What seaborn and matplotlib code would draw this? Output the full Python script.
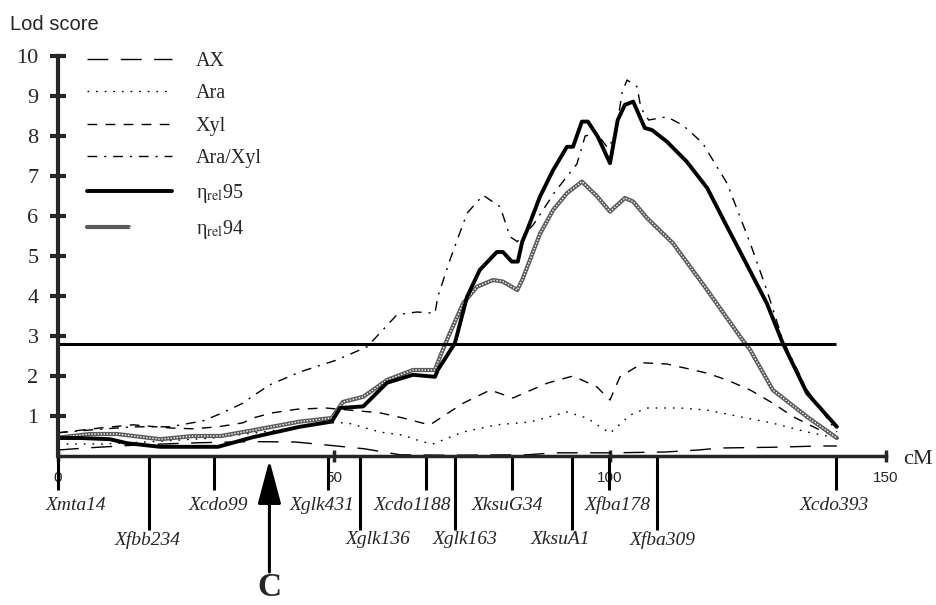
import seaborn as sns
import matplotlib.pyplot as plt
from matplotlib.legend_handler import HandlerTuple

# LOD profiles along the chromosome (position in cM, LOD score)
ax_cm = [0, 5, 15, 25, 35, 43, 49, 55.5, 62, 70, 85, 90, 101, 110, 116, 120, 130, 138, 141.1]
ax_lod = [0.15, 0.2, 0.28, 0.33, 0.36, 0.35, 0.27, 0.18, 0.03, 0.02, 0.03, 0.08, 0.08, 0.1, 0.15, 0.2, 0.22, 0.25, 0.25]

ara_cm = [0, 8, 16, 28, 40, 48.7, 52.4, 58.3, 62.5, 65.9, 67.9, 73.4, 79.5, 85.5, 92.2, 95.8,
          100.0, 103.6, 106.7, 112.7, 117.6, 123.6, 129.5, 135.7, 141.1]
ara_lod = [0.3, 0.3, 0.35, 0.45, 0.65, 0.83, 0.83, 0.6, 0.52, 0.36, 0.3, 0.6, 0.78, 0.85, 1.1, 0.95,
           0.57, 1.02, 1.2, 1.2, 1.15, 0.98, 0.82, 0.6, 0.45]

xyl_cm = [0, 7.6, 13.6, 20.3, 24.5, 29.0, 33.5, 35.3, 38.9, 43.3, 48.5, 58.3, 62.5, 66.1, 67.4, 73.4,
          78.3, 82.4, 88.6, 93.3, 97.6, 100.0, 101.8, 106.0, 110.3, 114.5, 117.6, 121.2, 125.4,
          129.5, 133.2, 138.0, 141.1]
xyl_lod = [0.58, 0.7, 0.78, 0.7, 0.68, 0.73, 0.83, 0.95, 1.08, 1.17, 1.2, 1.08, 0.95, 0.82, 0.78, 1.32,
           1.65, 1.45, 1.82, 2.0, 1.73, 1.4, 1.98, 2.33, 2.3, 2.17, 2.07, 1.9, 1.65,
           1.32, 0.98, 0.65, 0.48]

araxyl_cm = [0, 5.8, 13.6, 20.3, 26.3, 29.3, 33.5, 35.3, 38.4, 43.8, 50.5, 56.0, 61.4, 65.0, 68.3,
             68.8, 71.0, 74.1, 77.0, 80.1, 81.9, 83.2, 86.1, 90.0, 94.0, 95.5, 97.6, 99.6, 101.0,
             102.2, 103.1, 104.9, 105.6, 107.0, 110.3, 113.2, 116.8, 118.1, 121.2, 125.4, 128.4,
             131.3, 135.7, 141.1]
araxyl_lod = [0.58, 0.65, 0.73, 0.73, 0.88, 1.05, 1.32, 1.5, 1.78, 2.1, 2.4, 2.73, 3.53, 3.6, 3.57,
              3.98, 4.9, 6.07, 6.52, 6.23, 5.48, 5.36, 5.78, 6.6, 7.3, 8.0, 8.07, 7.7, 8.0,
              9.1, 9.4, 9.23, 8.7, 8.4, 8.48, 8.27, 7.82, 7.52, 6.82, 5.32, 4.15,
              2.9, 1.65, 0.6]

eta95_cm = [0, 4, 9.4, 12.5, 18.5, 29, 35.3, 43.8, 49.6, 51.1, 55.3, 59.6, 64.3, 68.3, 68.8, 71.9,
            74.1, 76.4, 79.5, 80.6, 82.2, 83.3, 84.1, 85.0, 87.3, 89.7, 92.2, 93.3, 94.9, 96.0,
            97.8, 100.0, 101.4, 102.7, 104.2, 106.3, 107.6, 110.3, 113.9, 117.6, 121.7, 123.6,
            128.4, 131.3, 135.7, 141.1]
eta95_lod = [0.45, 0.45, 0.42, 0.32, 0.23, 0.23, 0.47, 0.73, 0.86, 1.2, 1.24, 1.83, 2.03, 1.98, 2.15, 2.82,
             3.98, 4.65, 5.1, 5.1, 4.86, 4.86, 5.36, 5.65, 6.48, 7.15, 7.73, 7.73, 8.36, 8.36,
             7.98, 7.32, 8.4, 8.78, 8.86, 8.2, 8.15, 7.86, 7.36, 6.7, 5.6, 5.1,
             3.82, 2.82, 1.57, 0.73]

eta94_cm = [0, 5.8, 10.7, 18.5, 24.5, 29.5, 34.8, 43.8, 49.6, 51.6, 55.3, 59.6, 64.3, 68.3, 69.2, 70.7,
            73.4, 75.9, 78.8, 80.6, 83.2, 84.1, 87.3, 89.7, 92.2, 94.9, 97.6, 100.0, 102.7, 104.2,
            106.7, 111.4, 117.6, 123.6, 125.4, 129.5, 135.7, 141.1]
eta94_lod = [0.46, 0.55, 0.55, 0.42, 0.5, 0.5, 0.63, 0.86, 0.95, 1.35, 1.48, 1.9, 2.15, 2.15, 2.48, 2.98,
             3.82, 4.23, 4.4, 4.36, 4.15, 4.4, 5.55, 6.15, 6.57, 6.86, 6.5, 6.11, 6.45, 6.36,
             5.95, 5.32, 4.15, 2.98, 2.65, 1.65, 0.98, 0.45]

threshold = 2.8

# genetic markers on the linkage map
marker_names = ['Xmta14', 'Xfbb234', 'Xcdo99', 'Xglk431', 'Xglk136', 'Xcdo1188', 'Xglk163',
                'XksuG34', 'XksuA1', 'Xfba178', 'Xfba309', 'Xcdo393']
marker_cm = [0.0, 16.5, 28.3, 49.0, 54.7, 66.6, 71.9, 82.2, 93.1, 99.8, 108.5, 140.9]
marker_row = [1, 2, 1, 1, 2, 1, 2, 1, 2, 1, 2, 1]
qtl_c_cm = 38.3

legend_labels = ['AX', 'Ara', 'Xyl', 'Ara/Xyl', 'η$_{\\mathrm{rel}}$95', 'η$_{\\mathrm{rel}}$94']

# layout only: nudges of marker names relative to their line (cM)
label_nudge = [3.3, -0.2, 0.7, -1.2, 3.3, -2.4, 1.8, -0.7, -2.0, 1.5, 1.1, -0.3]

sns.set_style('white')
plt.rcParams['font.family'] = ['Liberation Serif', 'DejaVu Serif']
plt.rcParams['mathtext.fontset'] = 'stix'

fig = plt.figure(figsize=(9.36, 6.05), dpi=100)
ax = fig.add_axes([58 / 936, 149 / 605, 828 / 936, 400 / 605])

kw = dict(ax=ax, color='k', estimator=None, sort=False, legend=False)
sns.lineplot(x=ax_cm, y=ax_lod, lw=1, linestyle=(0, (15, 9)), **kw)
sns.lineplot(x=ara_cm, y=ara_lod, lw=1, linestyle=(0, (1.2, 5)), **kw)
sns.lineplot(x=xyl_cm, y=xyl_lod, lw=1, linestyle=(0, (7, 6)), **kw)
sns.lineplot(x=araxyl_cm, y=araxyl_lod, lw=1, linestyle=(0, (7, 5, 1.5, 5)), **kw)
sns.lineplot(x=eta94_cm, y=eta94_lod, ax=ax, color='#5a5a5a', lw=3.0,
             estimator=None, sort=False, legend=False)
sns.lineplot(x=eta94_cm, y=eta94_lod, ax=ax, color='white', lw=1.0, linestyle=(0, (1, 1.2)),
             estimator=None, sort=False, legend=False)
sns.lineplot(x=eta95_cm, y=eta95_lod, lw=2.8, **kw)

ax.hlines(threshold, 0, marker_cm[-1], color='k', lw=2.2)

ax.set_xlim(0, 150)
ax.set_ylim(0, 10)
sns.despine(ax=ax)
ax.spines['left'].set_linewidth(3)
ax.spines['bottom'].set_linewidth(2.5)
ax.set_yticks(range(1, 11))
ax.set_xticks([0, 50, 100, 150])
ax.tick_params(axis='y', direction='inout', length=12, width=3, labelsize=16, pad=8, left=True)
ax.tick_params(axis='x', direction='inout', length=8, width=2.5, labelsize=11, pad=7, bottom=True)
for lbl in ax.get_xticklabels():
    lbl.set_fontfamily('Liberation Sans')
ax.set_xlabel('')
ax.set_ylabel('')

# marker lines and names below the axis
row_end = {1: -0.85, 2: -1.85}
row_text = {1: -1.23, 2: -2.1}
ax.vlines(marker_cm, 0, [row_end[r] for r in marker_row], color='k', lw=2.2, clip_on=False)
for name, x, r, dx in zip(marker_names, marker_cm, marker_row, label_nudge):
    ax.text(x + dx, row_text[r], name, ha='center', va='center', style='italic',
            fontsize=14, clip_on=False)

ax.annotate('', xy=(qtl_c_cm, -0.1), xytext=(qtl_c_cm, -2.9),
            arrowprops=dict(arrowstyle='-|>,head_length=1.35,head_width=0.36', lw=2.2,
                            color='k', mutation_scale=20, shrinkA=0, shrinkB=0),
            annotation_clip=False)
ax.text(qtl_c_cm, -3.3, 'C', ha='center', va='center', fontsize=24, fontweight='bold',
        clip_on=False)
ax.text(155.8, -0.1, 'cM', ha='center', va='center', fontsize=16, clip_on=False)
fig.text(10 / 936, 1 - 24 / 605, 'Lod score', family='Liberation Sans', fontsize=14.5,
         ha='left', va='center')

lines = ax.get_lines()
handles = [lines[0], lines[1], lines[2], lines[3], lines[6], (lines[4], lines[5])]
ax.legend(handles=handles, labels=legend_labels, handler_map={tuple: HandlerTuple(ndivide=None)},
          loc='upper left', bbox_to_anchor=(87 / 936, 1 - 52 / 605), bbox_transform=fig.transFigure,
          frameon=False, fontsize=14.5, handlelength=4.2, handletextpad=1.2, labelspacing=0.66,
          borderpad=0, borderaxespad=0)

fig.savefig('out.png', dpi=100)
